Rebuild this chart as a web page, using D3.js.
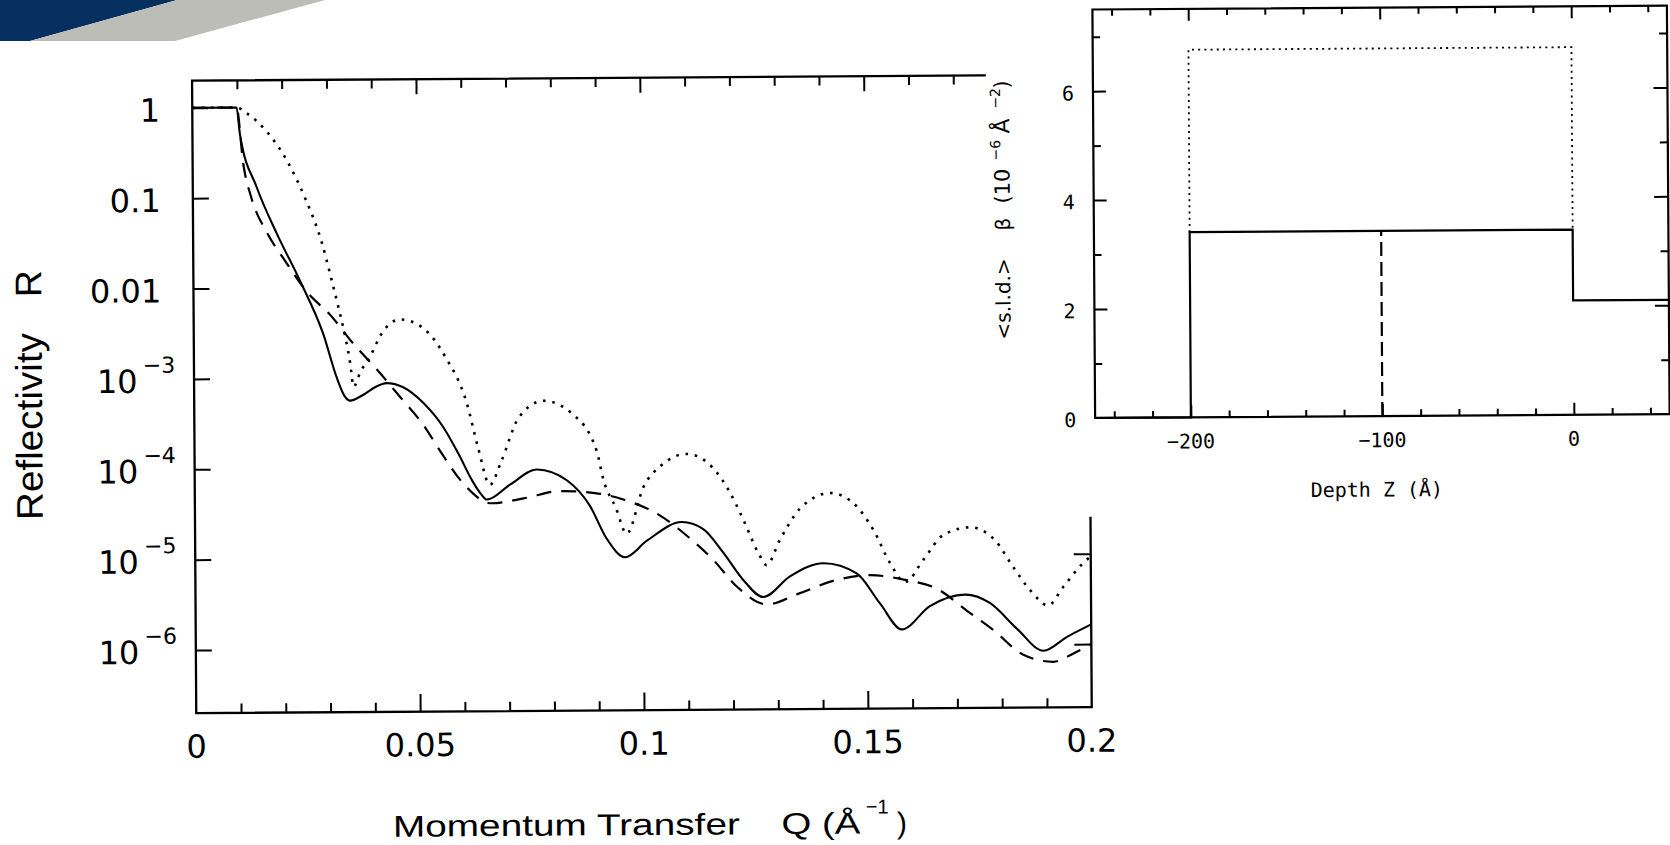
<!DOCTYPE html>
<html>
<head>
<meta charset="utf-8">
<script src="https://cdn.jsdelivr.net/npm/d3@7"></script>
<style>
  html, body { margin: 0; padding: 0; background: #fff; overflow: hidden; }
  svg { display: block; }
</style>
</head>
<body>
<svg id="fig" width="1670" height="845"></svg>
<script>
// ---- Reflectivity R(Q): three model profiles ----
const qSolid = [0, 0.0099, 0.0106, 0.0143, 0.0187, 0.0238, 0.0289, 0.0319, 0.0336, 0.0348, 0.0378, 0.0405, 0.0430,
  0.0467, 0.0512, 0.0556, 0.0590, 0.0620, 0.0640, 0.0652, 0.0704, 0.0764, 0.0831, 0.0882, 0.0919, 0.0960,
  0.1009, 0.1087, 0.1135, 0.1179, 0.1224, 0.1268, 0.1328, 0.1403, 0.1477, 0.1529, 0.1577, 0.1640, 0.1719,
  0.1774, 0.1834, 0.1893, 0.1945, 0.2];
const rSolid = [1, 1, 0.51, 0.13, 0.040, 0.012, 3.1e-3, 1.0e-3, 6.3e-4, 5.6e-4, 6.5e-4, 7.9e-4, 8.7e-4,
  7.8e-4, 5.2e-4, 2.8e-4, 1.4e-4, 7.1e-5, 5.0e-5, 4.4e-5, 6.4e-5, 9.4e-5, 7.1e-5, 3.7e-5, 1.6e-5, 9.9e-6,
  1.5e-5, 2.4e-5, 2.0e-5, 1.1e-5, 5.4e-6, 3.5e-6, 5.9e-6, 8.2e-6, 6.3e-6, 2.9e-6, 1.5e-6, 2.7e-6, 3.6e-6,
  2.9e-6, 1.5e-6, 8.5e-7, 1.2e-6, 1.65e-6];

const qDashed = [0, 0.0099, 0.0113, 0.0131, 0.0164, 0.0205, 0.0256, 0.0305, 0.0356, 0.0408, 0.0460, 0.0511,
  0.0552, 0.0596, 0.0663, 0.0734, 0.0816, 0.0894, 0.0957, 0.1031, 0.1101, 0.1157, 0.1209, 0.1276, 0.1347,
  0.1429, 0.1507, 0.1585, 0.1656, 0.1722, 0.1781, 0.1848, 0.1915, 0.1960, 0.2];
const rDashed = [1, 1, 0.24, 0.099, 0.042, 0.020, 8.7e-3, 5.0e-3, 2.4e-3, 1.24e-3, 6.1e-4, 3.0e-4,
  1.44e-4, 7.0e-5, 4.0e-5, 4.5e-5, 5.4e-5, 5.1e-5, 4.3e-5, 3.0e-5, 1.65e-5, 9.1e-6, 4.6e-6, 2.9e-6, 3.8e-6,
  5.3e-6, 6.0e-6, 5.3e-6, 4.2e-6, 2.4e-6, 1.46e-6, 7.7e-7, 6.4e-7, 7.9e-7, 1.0e-6];

const qDotted = [0, 0.0099, 0.0122, 0.0166, 0.0214, 0.0250, 0.0287, 0.0309, 0.0323, 0.0338, 0.0349, 0.0356,
  0.0372, 0.0393, 0.0420, 0.0461, 0.0513, 0.0561, 0.0609, 0.0634, 0.0659, 0.0686, 0.0724, 0.0780, 0.0843,
  0.0898, 0.0913, 0.0940, 0.0964, 0.1002, 0.1043, 0.1099, 0.1144, 0.1192, 0.1225, 0.1258, 0.1276, 0.1306,
  0.1351, 0.1419, 0.1470, 0.1515, 0.1552, 0.1585, 0.1626, 0.1671, 0.1731, 0.1786, 0.1826, 0.1864, 0.1904,
  0.1938, 0.1983, 0.2];
const rDotted = [1, 1, 0.86, 0.54, 0.24, 0.10, 0.032, 0.012, 6.2e-3, 2.9e-3, 1.45e-3, 8.0e-4,
  1.17e-3, 1.7e-3, 3.1e-3, 4.4e-3, 3.5e-3, 1.7e-3, 5.1e-4, 1.6e-4, 6.4e-5, 1.2e-4, 3.5e-4, 5.4e-4, 3.9e-4,
  1.5e-4, 7.1e-5, 3.5e-5, 1.8e-5, 5.9e-5, 1.03e-4, 1.36e-4, 1.1e-4, 5.4e-5, 2.5e-5, 1.07e-5, 7.9e-6, 1.5e-5,
  3.3e-5, 4.9e-5, 3.8e-5, 1.9e-5, 8.1e-6, 5.0e-6, 8.8e-6, 1.65e-5, 2.0e-5, 1.44e-5, 7.3e-6, 4.0e-6, 2.7e-6,
  4.3e-6, 7.9e-6, 9.3e-6];

const qTicks = [0, 0.05, 0.1, 0.15, 0.2];
const qTickLabels = ["0", "0.05", "0.1", "0.15", "0.2"];
const rTicks = [1, 0.1, 0.01, 1e-3, 1e-4, 1e-5, 1e-6];
const rTickBase = ["1", "0.1", "0.01", "10", "10", "10", "10"];
const rTickExp = ["", "", "", "\u22123", "\u22124", "\u22125", "\u22126"];

// ---- Scattering length density profiles vs depth ----
const zSolid = [-250, -200, -200, 0, 0, 50];
const sldSolid = [0, 0, 3.4, 3.4, 2.1, 2.1];
const zDotted = [-200, -200, 0, 0];
const sldDotted = [3.4, 6.75, 6.75, 3.4];
const zDashed = [-100, -100];
const sldDashed = [0, 3.4];

const zTicks = [-200, -100, 0];
const zTickLabels = ["\u2212200", "\u2212100", "0"];
const sldTicks = [0, 2, 4, 6];
const sldTickLabels = ["0", "2", "4", "6"];

// ------------------------------------------------------------------
const svg = d3.select("#fig");
const INK = "#000";

// slide header band
svg.append("polygon").attr("points", "0,0 177,0 30,41 0,41").attr("fill", "#06305f");
svg.append("polygon").attr("points", "177,0 325,0 175,41 30,41").attr("fill", "#bdbdb7");

// the whole figure sits slightly tilted on the slide
const g = svg.append("g").attr("transform", "rotate(-0.38 640 400)");

// ---------------- main panel: reflectivity ----------------
const M = { left: 194.2, right: 1089.7, top: 77.7, bottom: 710.2 };
const x = d3.scaleLinear().domain([0, 0.2]).range([M.left, M.right]);
const y = d3.scaleLog().domain([2e-7, 2]).range([M.bottom, M.top]);

const pairs = (a, b) => a.map((v, i) => [v, b[i]]);
const rLine = d3.line().x(d => x(d[0])).y(d => y(d[1])).curve(d3.curveMonotoneX);

const curves = g.append("g").attr("fill", "none").attr("stroke", INK);
curves.append("path").datum(pairs(qDotted, rDotted)).attr("d", rLine)
  .attr("stroke-width", 2.6).attr("stroke-dasharray", "2.6,6.8");
curves.append("path").datum(pairs(qDashed, rDashed)).attr("d", rLine)
  .attr("stroke-width", 2.2).attr("stroke-dasharray", "15,10");
curves.append("path").datum(pairs(qSolid, rSolid)).attr("d", rLine)
  .attr("stroke-width", 2.1);

// tick marks (all pointing into the plot)
const minorQ = d3.range(1, 20).filter(i => i % 5 !== 0).map(i => i / 100);
const majorQ = [0.05, 0.1, 0.15];
function tickStyle(sel) {
  sel.select(".domain").remove();
  sel.selectAll("line").attr("stroke", INK).attr("stroke-width", 2);
}
g.append("g").attr("transform", `translate(0,${M.bottom})`)
  .call(d3.axisBottom(x).tickValues(minorQ).tickSize(-9.3).tickFormat("")).call(tickStyle);
g.append("g").attr("transform", `translate(0,${M.bottom})`)
  .call(d3.axisBottom(x).tickValues(majorQ).tickSize(-17.7).tickFormat("")).call(tickStyle);
g.append("g").attr("transform", `translate(0,${M.top})`)
  .call(d3.axisTop(x).tickValues(minorQ).tickSize(-9).tickFormat("")).call(tickStyle);
g.append("g").attr("transform", `translate(0,${M.top})`)
  .call(d3.axisTop(x).tickValues(majorQ).tickSize(-15).tickFormat("")).call(tickStyle);
g.append("g").attr("transform", `translate(${M.left},0)`)
  .call(d3.axisLeft(y).tickValues(rTicks).tickSize(-16).tickFormat("")).call(tickStyle);
g.append("g").attr("transform", `translate(${M.right},0)`)
  .call(d3.axisRight(y).tickValues(rTicks).tickSize(-17).tickFormat("")).call(tickStyle);

// frame
g.append("rect").attr("x", M.left).attr("y", M.top)
  .attr("width", M.right - M.left).attr("height", M.bottom - M.top)
  .attr("fill", "none").attr("stroke", INK).attr("stroke-width", 2.3);

// tick labels
const tickFont = "'DejaVu Sans', sans-serif";
g.append("g").selectAll("text").data(qTicks).join("text")
  .attr("x", d => x(d)).attr("y", M.bottom + 44.5)
  .attr("text-anchor", "middle").attr("font-family", tickFont).attr("font-size", 32)
  .attr("fill", INK).text((d, i) => qTickLabels[i]);

const yLab = g.append("g").attr("font-family", tickFont).attr("fill", INK);
rTicks.forEach((v, i) => {
  if (rTickExp[i] === "") {
    yLab.append("text").attr("x", 162).attr("y", y(v) + 13.5)
      .attr("text-anchor", "end").attr("font-size", 32).text(rTickBase[i]);
  } else {
    yLab.append("text").attr("x", 97).attr("y", y(v) + 13.5)
      .attr("font-size", 32).text(rTickBase[i]);
    yLab.append("text").attr("x", 143).attr("y", y(v) - 6.5)
      .attr("font-size", 22).text(rTickExp[i]);
  }
});

// axis titles
const titleFont = "'Liberation Sans', Arial, sans-serif";
const xt = g.append("g").attr("font-family", titleFont).attr("fill", INK);
xt.append("text").attr("x", 390).attr("y", 835).attr("font-size", 30)
  .attr("textLength", 347).attr("lengthAdjust", "spacingAndGlyphs").text("Momentum Transfer");
xt.append("text").attr("x", 778.5).attr("y", 835).attr("font-size", 30)
  .attr("textLength", 79).attr("lengthAdjust", "spacingAndGlyphs").text("Q (\u00C5");
xt.append("text").attr("x", 863).attr("y", 815).attr("font-size", 20).text("\u22121");
xt.append("text").attr("x", 894).attr("y", 835).attr("font-size", 30).text(")");

const yt = g.append("g").attr("font-family", titleFont).attr("fill", INK).attr("font-size", 37);
yt.append("text").attr("transform", "translate(42,516) rotate(-90)")
  .attr("textLength", 187).attr("lengthAdjust", "spacingAndGlyphs").text("Reflectivity");
yt.append("text").attr("transform", "translate(42,293) rotate(-90)").text("R");

// ---------------- inset: density profile ----------------
g.append("rect").attr("x", 988).attr("y", -40).attr("width", 760).attr("height", 519.7 + 40)
  .attr("fill", "#fff");

const I = { left: 1095, right: 1669.5, top: 12.5, bottom: 421 };
const zx = d3.scaleLinear().domain([-250, 50]).range([I.left, I.right]);
const sy = d3.scaleLinear().domain([0, 7.5]).range([I.bottom, I.top]);

const minorZ = d3.range(-240, 41, 20).filter(v => v % 100 !== 0);
const minorS = [1, 3, 5, 7];
const majorS = [2, 4, 6];
g.append("g").attr("transform", `translate(0,${I.bottom})`)
  .call(d3.axisBottom(zx).tickValues(minorZ).tickSize(-6.5).tickFormat("")).call(tickStyle);
g.append("g").attr("transform", `translate(0,${I.bottom})`)
  .call(d3.axisBottom(zx).tickValues(zTicks).tickSize(-12).tickFormat("")).call(tickStyle);
g.append("g").attr("transform", `translate(0,${I.top})`)
  .call(d3.axisTop(zx).tickValues(minorZ).tickSize(-6.5).tickFormat("")).call(tickStyle);
g.append("g").attr("transform", `translate(0,${I.top})`)
  .call(d3.axisTop(zx).tickValues(zTicks).tickSize(-12).tickFormat("")).call(tickStyle);
g.append("g").attr("transform", `translate(${I.left},0)`)
  .call(d3.axisLeft(sy).tickValues(minorS).tickSize(-7.5).tickFormat("")).call(tickStyle);
g.append("g").attr("transform", `translate(${I.left},0)`)
  .call(d3.axisLeft(sy).tickValues(majorS).tickSize(-13).tickFormat("")).call(tickStyle);
g.append("g").attr("transform", `translate(${I.right},0)`)
  .call(d3.axisRight(sy).tickValues(minorS).tickSize(-8).tickFormat("")).call(tickStyle);
g.append("g").attr("transform", `translate(${I.right},0)`)
  .call(d3.axisRight(sy).tickValues(majorS).tickSize(-14).tickFormat("")).call(tickStyle);

const sldLine = d3.line().x(d => zx(d[0])).y(d => sy(d[1]));
const prof = g.append("g").attr("fill", "none").attr("stroke", INK);
prof.append("path").datum(pairs(zDotted, sldDotted)).attr("d", sldLine)
  .attr("stroke-width", 1.8).attr("stroke-dasharray", "2,4.2");
prof.append("path").datum(pairs(zDashed, sldDashed)).attr("d", sldLine)
  .attr("stroke-width", 2.2).attr("stroke-dasharray", "14,6");
prof.append("path").datum(pairs(zSolid, sldSolid)).attr("d", sldLine)
  .attr("stroke-width", 2.2);

g.append("rect").attr("x", I.left).attr("y", I.top)
  .attr("width", I.right - I.left).attr("height", I.bottom - I.top)
  .attr("fill", "none").attr("stroke", INK).attr("stroke-width", 2.2);

const monoFont = "'DejaVu Sans Mono', monospace";
g.append("g").selectAll("text").data(zTicks).join("text")
  .attr("x", d => zx(d)).attr("y", I.bottom + 31)
  .attr("text-anchor", "middle").attr("font-family", monoFont).attr("font-size", 20)
  .attr("fill", INK).text((d, i) => zTickLabels[i]);
g.append("g").selectAll("text").data(sldTicks).join("text")
  .attr("x", I.left - 19).attr("y", d => sy(d) + 9)
  .attr("text-anchor", "end").attr("font-family", monoFont).attr("font-size", 20)
  .attr("fill", INK).text((d, i) => sldTickLabels[i]);

g.append("text").attr("x", 1310).attr("y", 501.5)
  .attr("font-family", monoFont).attr("font-size", 20).attr("fill", INK)
  .text("Depth  Z (\u00C5)");

// rotated y title of the inset, laid out piece by piece along the axis
const st = g.append("text").attr("transform", "translate(1011,0) rotate(-90)")
  .attr("font-family", "'DejaVu Sans', sans-serif").attr("fill", INK);
const pieces = [
  { s: "<s.l.d.>", at: 342, size: 20, raise: 0 },
  { s: "\u03B2", at: 233, size: 20, raise: 0 },
  { s: "(10", at: 206, size: 21, raise: 0 },
  { s: "\u22126", at: 163, size: 14, raise: 9 },
  { s: "\u00C5", at: 136, size: 22, raise: 0 },
  { s: "\u22122", at: 111, size: 14, raise: 9 },
  { s: ")", at: 91, size: 21, raise: 0 }
];
pieces.forEach(p => {
  st.append("tspan").attr("x", -p.at).attr("y", -p.raise)
    .attr("font-size", p.size).text(p.s);
});
</script>
</body>
</html>
